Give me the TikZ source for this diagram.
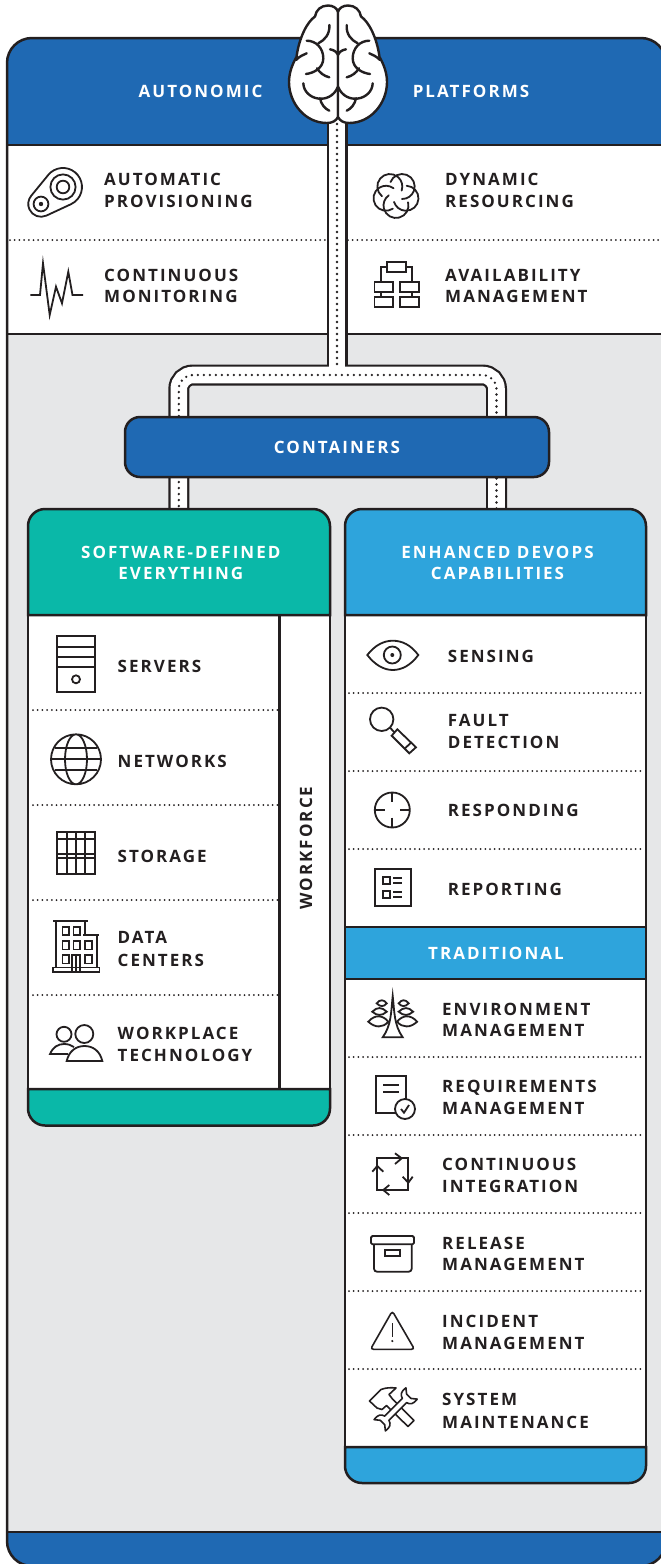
\documentclass[tikz,border=0pt]{standalone}
\usepackage{fontspec}
\usetikzlibrary{calc}
\setmainfont{Open Sans}
\newfontfamily\lf[LetterSpace=12,BoldFont={Open Sans Bold}]{Open Sans}
\definecolor{ink}{HTML}{231F20}
\definecolor{bluedk}{HTML}{1F69B3}
\definecolor{teal}{HTML}{0AB8A8}
\definecolor{bluelt}{HTML}{2EA4DC}
\definecolor{paper}{HTML}{E6E7E8}
\tikzset{
 frame/.style={draw=ink,line width=2.5pt},
 dotrow/.style={draw=ink,line width=2pt,line cap=round,dash pattern=on 0pt off 4.7pt},
 tubeo/.style={draw=ink,line width=21pt},
 tubei/.style={draw=white,line width=16.6pt},
 tubed/.style={draw=ink,line width=2.6pt,line cap=round,dash pattern=on 0pt off 6pt},
 lab/.style={font=\lf\bfseries\fontsize{17}{21.3}\selectfont,text=ink,anchor=base west,inner sep=0pt,align=left},
 wlab/.style={font=\lf\bfseries\fontsize{17}{21.3}\selectfont,text=white,inner sep=0pt,align=center},
 ico/.style={draw=ink,line width=1.8pt,line join=miter},
 brainl/.style={draw=ink,line width=2.4pt,line cap=round}
}
\newcommand{\brainhalf}{%
 \draw[brainl,fill=white] (0,12) .. controls (-1,8) and (-5,5.5) .. (-10,5.5) .. controls (-17,5.5) and (-22,10) .. (-23,16.5) .. controls (-31,22) and (-39,38) .. (-41.5,57) .. controls (-45,63) and (-49,72) .. (-49,82) .. controls (-49,103) and (-33,123) .. (-11,123) .. controls (-6,123) and (-2,121) .. (0,117) -- cycle;
 \draw[brainl] (-8.7,25) .. controls (-8,34) and (-13,40) .. (-19.7,43.3);
 \draw[brainl] (-31.3,40.7) .. controls (-22,40.7) and (-14.7,48) .. (-14.7,58.3) .. controls (-14.7,68) and (-24,73) .. (-32,74);
 \draw[brainl] (-21,68.3) .. controls (-18,73) and (-14,76) .. (-8.7,77.3);
 \draw[brainl] (-42,60) .. controls (-38,56) and (-35,55) .. (-31.3,53.3);
 \draw[brainl] (-34.7,83.3) .. controls (-34,100) and (-8,106) .. (0,86.7);
 \draw[brainl] (-18,98.3) .. controls (-17,104) and (-13,109) .. (-8.7,110.7);
 \draw[brainl] (-8,49.3) .. controls (-4,50) and (-1,52) .. (0,55);
}
\begin{document}
\begin{tikzpicture}[x=1pt,y=-1pt]
\useasboundingbox (0,0) rectangle (661,1564);
\clip (0,0) rectangle (661,1564);
% outer panel
\fill[paper,rounded corners=25pt] (7,38) rectangle (666,1566);
\fill[bluedk] (7,145) [rounded corners=25pt] -- (7,38) -- (666,38) [sharp corners] -- (666,145) -- cycle;
\fill[white] (7,145) rectangle (666,334);
\fill[bluedk] (7,1532) [rounded corners=25pt] -- (7,1566) -- (666,1566) [sharp corners] -- (666,1532) -- cycle;
\draw[frame] (7,145) -- (666,145) (7,334) -- (666,334) (7,1532) -- (666,1532);
\draw[frame,rounded corners=25pt] (7,38) rectangle (666,1566);
\draw[dotrow] (10,240) -- (326,240);
\draw[dotrow] (348,240) -- (661,240);
% named ports
\coordinate (brainbase) at (337,118);
\coordinate (junction) at (337,375);
\coordinate (softport) at (178.8,512);
\coordinate (devport) at (496.5,512);
% tubes
\draw[tubeo] (brainbase) -- (junction);
\draw[tubeo,rounded corners=14pt] (softport) |- (junction) -| (devport);
\draw[tubei] (brainbase) -- (junction);
\draw[tubei,rounded corners=14pt] (softport) |- (junction) -| (devport);
\draw[tubed] (brainbase) -- ($(junction)+(0,-6)$);
\draw[tubed,rounded corners=14pt] (softport) |- (junction) -| (devport);
% brain
\begin{scope}[shift={(338,0)}]
 \brainhalf
 \begin{scope}[xscale=-1]\brainhalf\end{scope}
\end{scope}
\node[wlab] (autonomic) at (200.5,91) {AUTONOMIC};
\node[wlab] (platforms) at (471,91) {PLATFORMS};
% containers
\node[frame,fill=bluedk,rounded corners=15pt,minimum width=424pt,minimum height=60pt,inner sep=0pt,font=\lf\bfseries\fontsize{17}{21.3}\selectfont,text=white] (containers) at (337,447) {CONTAINERS};
% left box
\draw[frame,fill=white] (28,600) rectangle (330,1100);
\draw[frame,fill=teal] (28,615) [rounded corners=17pt] -- (28,509) -- (330,509) [sharp corners] -- (330,615) -- cycle;
\draw[frame,fill=teal] (28,1089) [rounded corners=17pt] -- (28,1125.5) -- (330,1125.5) [sharp corners] -- (330,1089) -- cycle;
\draw[frame] (279.5,615) -- (279.5,1089);
\foreach \y in {710,805,900,995} \draw[dotrow] (33,\y) -- (279,\y);
% right box
\draw[frame,fill=white] (345,600) rectangle (646,1460);
\draw[frame,fill=bluelt] (345,615) [rounded corners=17pt] -- (345,509) -- (646,509) [sharp corners] -- (646,615) -- cycle;
\draw[frame,fill=bluelt] (345,927) rectangle (646,979);
\draw[frame,fill=bluelt] (345,1447) [rounded corners=17pt] -- (345,1483) -- (646,1483) [sharp corners] -- (646,1447) -- cycle;
\foreach \y in {693,771,849,1057,1135,1213,1291,1369} \draw[dotrow] (349,\y) -- (645,\y);
% headers
\node[wlab,anchor=base] (soft) at (180.8,579.3) {SOFTWARE-DEFINED\\EVERYTHING};
\node[wlab,anchor=base] (devops) at (497.5,579.3) {ENHANCED DEVOPS\\CAPABILITIES};
\node[wlab] (trad) at (496,953.5) {TRADITIONAL};
% labels
\node[lab] (l1) at (104,207) {AUTOMATIC\\PROVISIONING};
\node[lab] (l2) at (104,302.5) {CONTINUOUS\\MONITORING};
\node[lab] (l3) at (445,207) {DYNAMIC\\RESOURCING};
\node[lab] (l4) at (445,302.5) {AVAILABILITY\\MANAGEMENT};
\node[lab] (s1) at (117.5,672) {SERVERS};
\node[lab] (s2) at (117.5,767) {NETWORKS};
\node[lab] (s3) at (117.5,862) {STORAGE};
\node[lab] (s4) at (117.5,966) {DATA\\[1.3pt]CENTERS};
\node[lab] (s5) at (117.5,1061.5) {WORKPLACE\\[1pt]TECHNOLOGY};
\node[lab,anchor=base,rotate=90] (wf) at (312,848) {WORKFORCE};
\node[lab] (d1) at (447.7,662) {SENSING};
\node[lab] (d2) at (447.7,748) {FAULT\\DETECTION};
\node[lab] (d3) at (447.7,816.7) {RESPONDING};
\node[lab] (d4) at (447.7,895) {REPORTING};
\node[lab] (t1) at (442,1036.5) {ENVIRONMENT\\MANAGEMENT};
\node[lab] (t2) at (442,1114) {REQUIREMENTS\\MANAGEMENT};
\node[lab] (t3) at (442,1192) {CONTINUOUS\\INTEGRATION};
\node[lab] (t4) at (442,1270.5) {RELEASE\\MANAGEMENT};
\node[lab] (t5) at (442,1349) {INCIDENT\\MANAGEMENT};
\node[lab] (t6) at (442,1428) {SYSTEM\\[1pt]MAINTENANCE};
% --- icons ---
% provisioning
\draw[ico] (48.3,174.9) arc (219.4:425.2:19) -- (46.4,215.6) arc (65.2:219.4:12.8) -- cycle;
\draw[ico] (63,187) circle (12.6) (63,187) circle (6.3) (41,204) circle (7.4);
\fill[ink] (41,204) circle (2.2);
% heartbeat
\draw[ico] (30.4,295) -- (40,295) -- (43,263.3) -- (49.7,315) -- (56,286.7) -- (62,303.3) -- (68.3,271.7) -- (72.5,295) -- (83,295);
% resourcing
\foreach \a in {18,90,162,234,306}
 \draw[ico,line cap=round] ({396+10.5*cos(\a)+12.5*cos(\a-105)},{195+10.5*sin(\a)+12.5*sin(\a-105)}) arc ({\a-105}:{\a+145}:12.5);
% availability
\draw[ico] (387,262.3) rectangle (405.6,272.3);
\draw[ico] (380.7,281.7) |- (387,267) (412.3,281.7) |- (405.6,267);
\draw[ico] (374.4,281.7) rectangle (393.3,291.7) (399.7,281.7) rectangle (418.6,291.7) (374.4,296.7) rectangle (393.3,306.7) (399.7,296.7) rectangle (418.6,306.7);
\draw[ico] (380.7,291.7) -- (380.7,296.7) (412.3,291.7) -- (412.3,296.7);
% servers
\draw[ico] (57.3,636) rectangle (95,691.7);
\draw[ico] (57.3,646.7) -- (95,646.7) (57.3,656.7) -- (95,656.7) (57.3,666.7) -- (95,666.7);
\draw[ico] (76,679.3) circle (4);
% globe
\draw[ico] (76,759.3) circle (25) (76,759.3) ellipse (11 and 25);
\draw[ico] (51,759.3) -- (101,759.3) (55,748.3) -- (97,748.3) (55,770.3) -- (97,770.3);
% storage
\draw[ico] (57.3,832.3) rectangle (95,874);
\draw[ico] (66.7,832.3) -- (66.7,874) (76,832.3) -- (76,874) (85.3,832.3) -- (85.3,874);
\draw[ico] (57.3,839.3) -- (95,839.3) (57.3,854.3) -- (95,854.3) (57.3,858.3) -- (95,858.3);
% data centers
\draw[ico,line width=1.6pt] (53.3,920.7) -- (88.3,920.7) (56,920.7) -- (56,967.3) (85,920.7) -- (85,935) (83,935) -- (99,935) (96.7,935) -- (96.7,967.3);
\draw[ico,line width=1.6pt] (52.7,967.3) rectangle (99.3,971.7);
\draw[ico,line width=1.6pt] (62.3,926.7) rectangle (69,935) (73.3,926.7) rectangle (80,935) (62.3,941) rectangle (69,949.3) (73.3,941) rectangle (80,949.3) (85,941) rectangle (91.7,949.3) (62.3,955) rectangle (69,963.3) (85,955) rectangle (91.7,963.3) (72,955) rectangle (80,971.7) (76,955) -- (76,971.7);
% workplace
\draw[ico] (64,1034.3) circle (7.5) (84.3,1034) circle (9);
\draw[ico] (68,1054) -- (50,1054) .. controls (53,1047) and (58,1044) .. (64,1044) .. controls (68,1044) and (71,1045) .. (74,1047);
\draw[ico] (66.7,1061) -- (102.3,1061) .. controls (100,1051) and (93,1046) .. (84.5,1046) .. controls (76,1046) and (69,1051) .. (66.7,1061) -- cycle;
% eye
\draw[ico] (367.3,655) .. controls (375,645) and (384,640.7) .. (392.8,640.7) .. controls (402,640.7) and (411,645) .. (418.3,655) .. controls (411,665) and (402,670) .. (392.8,670) .. controls (384,670) and (375,665) .. (367.3,655) -- cycle;
\draw[ico] (392.3,655) circle (8.5);
\fill[ink] (392.3,655) circle (2);
% magnifier
\draw[ico] (381.7,719.3) circle (11.7);
\draw[ico] (390,727.6) -- (394.5,732.5);
\draw[ico] (397.3,729.3) -- (416,747.3) -- (409.3,753.3) -- (391.7,735.7) -- cycle;
\draw[ico] (411,742.7) -- (405,748.3);
% target
\draw[ico] (392.3,810) circle (17.5);
\draw[ico] (392.3,792.5) -- (392.3,802.3) (392.3,817.7) -- (392.3,827.5) (374.8,810) -- (384.6,810) (400,810) -- (409.8,810);
% reporting
\draw[ico] (374.7,869) rectangle (410.7,905.7);
\draw[ico] (382.7,877.3) rectangle (390,884.3) (382.7,890.7) rectangle (390,897.7);
\draw[ico] (393.3,878.3) -- (401.7,878.3) (393.3,883.3) -- (401.7,883.3) (393.3,891.7) -- (401.7,891.7) (393.3,896.7) -- (401.7,896.7);
% environment
\draw[ico] (392.7,996) .. controls (391,1012) and (391.5,1025) .. (382.7,1037.3) -- (402.7,1037.3) .. controls (394,1025) and (394.5,1012) .. (392.7,996) -- cycle;
\draw[ico] (368.3,1021.7) .. controls (375,1014) and (383,1015) .. (388.3,1021.7) .. controls (383,1028) and (375,1028) .. (368.3,1021.7) -- cycle;
\draw[ico] (372.3,1011.7) .. controls (377,1006.7) and (382,1007) .. (386.7,1011.7) .. controls (382,1016) and (377,1016) .. (372.3,1011.7) -- cycle;
\draw[ico] (376.7,1003.3) .. controls (380,999) and (384,999.5) .. (386.7,1003.3) .. controls (384,1007) and (380,1007) .. (376.7,1003.3) -- cycle;
\draw[ico] (417.1,1021.7) .. controls (410.4,1014) and (402.4,1015) .. (397.1,1021.7) .. controls (402.4,1028) and (410.4,1028) .. (417.1,1021.7) -- cycle;
\draw[ico] (413.1,1011.7) .. controls (408.4,1006.7) and (403.4,1007) .. (398.7,1011.7) .. controls (403.4,1016) and (408.4,1016) .. (413.1,1011.7) -- cycle;
\draw[ico] (408.7,1003.3) .. controls (405.4,999) and (401.4,999.5) .. (398.7,1003.3) .. controls (401.4,1007) and (405.4,1007) .. (408.7,1003.3) -- cycle;
% requirements
\draw[ico] (396,1112.7) -- (375.7,1112.7) -- (375.7,1075.7) -- (406,1075.7) -- (406,1099);
\draw[ico] (383.3,1085) -- (399.3,1085) (383.3,1092.3) -- (399.3,1092.3);
\draw[ico] (405,1109) circle (10);
\draw[ico] (401,1109) -- (404,1112.7) -- (409,1105);
% integration
\draw[ico] (377.3,1158.3) rectangle (408.3,1190);
\draw[ico] (395,1153.3) -- (401.7,1158.3) -- (395,1164);
\draw[ico] (402.7,1176.7) -- (408.3,1182.7) -- (412.7,1176.7);
\draw[ico] (389.3,1185) -- (383.3,1190) -- (389.3,1195);
\draw[ico] (372.3,1171.7) -- (377.3,1166) -- (383.3,1171.7);
% release
\draw[ico,rounded corners=1.5pt] (371,1236) rectangle (414,1244.3);
\draw[ico] (374,1244.3) [rounded corners=3pt] -- (374,1271.7) -- (411.7,1271.7) [sharp corners] -- (411.7,1244.3);
\draw[ico] (385,1250) rectangle (400,1255.7);
% warning
\draw[ico,line width=1.6pt,rounded corners=3pt] (392.3,1311) -- (414.5,1349.3) -- (370.5,1349.3) -- cycle;
\draw[ink,line width=1.3pt] (392.3,1323.3) -- (392.3,1336.5);
\fill[ink] (392.3,1341) circle (1.2);
% maintenance
\draw[ico,line width=1.6pt,fill=white,line join=round] (369.5,1401) -- (381,1389.5) .. controls (386,1387.5) and (391,1387.5) .. (396,1388) -- (389,1394.5) -- (392.5,1399) -- (414,1420.5) -- (408,1426.5) -- (386.5,1405.5) -- (382,1409.5) -- (377,1408) -- cycle;
\begin{scope}[shift={(396,1409)},rotate=45]
\draw[ico,line width=1.6pt,fill=white,line join=round] (-13,-3) -- (12,-3) .. controls (13,-7) and (16,-9) .. (22,-8) -- (18,-3) -- (18,3) -- (22,8) .. controls (16,9) and (13,7) .. (12,3) -- (-13,3) .. controls (-14,7) and (-17,9) .. (-23,8) -- (-19,3) -- (-19,-3) -- (-23,-8) .. controls (-17,-9) and (-14,-7) .. (-13,-3) -- cycle;
\end{scope}
\end{tikzpicture}
\end{document}
